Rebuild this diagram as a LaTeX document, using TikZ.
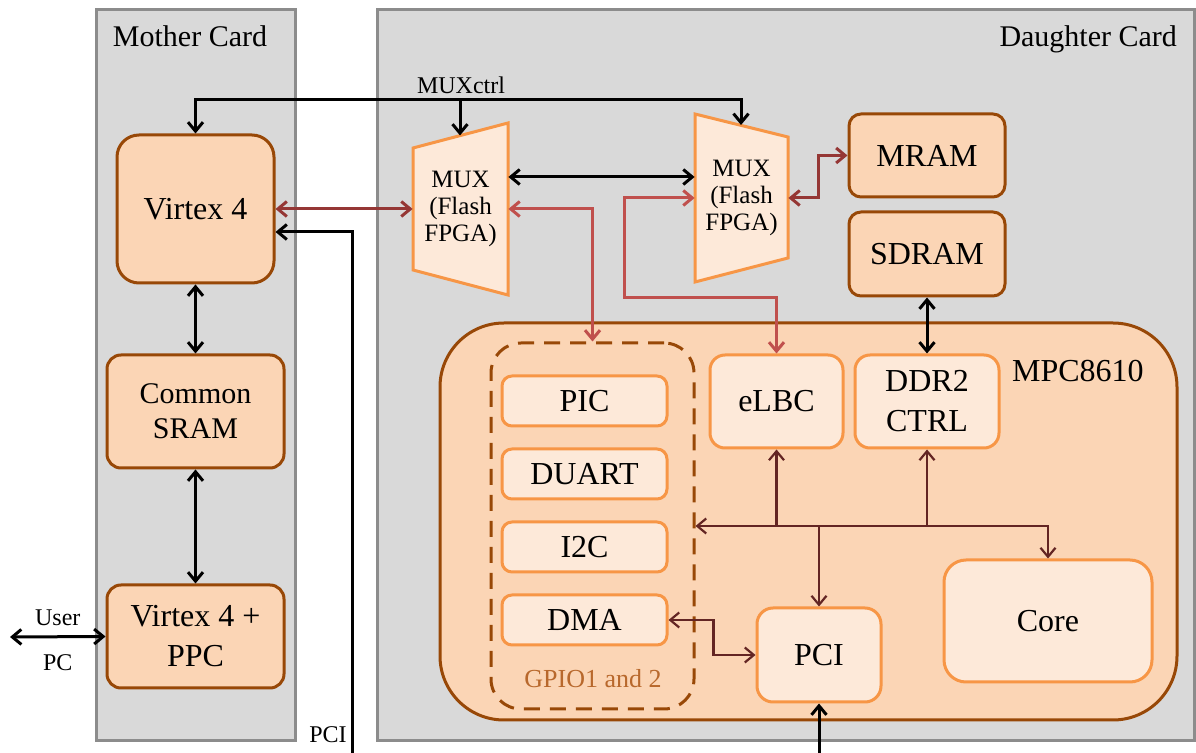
\documentclass[tikz,border=0pt]{standalone}
\usepackage{fontspec}
\setmainfont{Liberation Serif}
\usetikzlibrary{positioning,arrows.meta}
\definecolor{cardfill}{HTML}{D9D9D9}
\definecolor{cardline}{HTML}{8C8C8C}
\definecolor{darkfill}{HTML}{FBD5B5}
\definecolor{darkline}{HTML}{984807}
\definecolor{lightfill}{HTML}{FDE9D9}
\definecolor{lightline}{HTML}{F79646}
\definecolor{darkred}{HTML}{953735}
\definecolor{lightred}{HTML}{C0504D}
\definecolor{busred}{HTML}{632523}
\definecolor{gpiotext}{HTML}{B8682C}

\begin{document}
\begin{tikzpicture}[x=0.5pt, y=-0.5pt,
  card/.style={draw=cardline, fill=cardfill, line width=1.5pt, inner sep=0pt},
  dbox/.style={draw=darkline, fill=darkfill, line width=1.5pt, rounded corners=7pt, align=center, inner sep=0pt, font=\fontsize{16}{20}\selectfont},
  lbox/.style={draw=lightline, fill=lightfill, line width=1.5pt, rounded corners=5pt, align=center, inner sep=0pt, font=\fontsize{16}{20}\selectfont},
  mux/.style={draw=lightline, fill=lightfill, line width=1.5pt},
  muxtxt/.style={align=center, inner sep=0pt, font=\fontsize{12.5}{13.5}\selectfont},
  txt/.style={font=\fontsize{16}{20}\selectfont},
  ttl/.style={font=\fontsize{15}{17}\selectfont},
  lbl/.style={font=\fontsize{12}{14}\selectfont, inner sep=1pt},
  blk/.style={line width=1.5pt, draw=black},
  dred/.style={line width=1.5pt, draw=darkred},
  lred/.style={line width=1.5pt, draw=lightred},
  bus/.style={line width=1.1pt, draw=busred},
  >={Straight Barb[length=4.5pt, width=7.5pt]}]
\useasboundingbox (0,0) rectangle (1196,753);
% cards
\node[card, minimum width=99.5pt, minimum height=365.5pt] (mother) at (195.5,375.5) {};
\node[card, minimum width=408.5pt, minimum height=365.5pt] (daughter) at (785.5,375.5) {};
\node[ttl, anchor=base] (mtitle) at (190,47) {Mother Card};
\node[ttl, anchor=base east] (dtitle) at (1184,47) {Daughter Card};
% mother card
\node[dbox, rounded corners=11pt, minimum width=78.5pt, minimum height=74pt] (v4) at (195.5,209) {Virtex 4};
\node[dbox, minimum width=88.5pt, minimum height=56.5pt, font=\fontsize{15}{17.5}\selectfont] (sram) at (195.5,411.5) {Common\\SRAM};
\node[dbox, minimum width=88.5pt, minimum height=51.5pt] (ppc) at (195.5,636.5) {Virtex 4 +\\PPC};
% muxes
\draw[mux] (413,148) -- (508,123) -- (508,295) -- (413,270) -- cycle;
\node[muxtxt, minimum width=47.5pt] (mux1) at (460.5,209) {MUX\\(Flash\\FPGA)};
\draw[mux] (695,114) -- (788,137) -- (788,258) -- (695,282) -- cycle;
\node[muxtxt, minimum width=46.5pt] (mux2) at (741.5,198) {MUX\\(Flash\\FPGA)};
% memories
\node[dbox, rounded corners=6pt, minimum width=78pt, minimum height=41.5pt] (mram) at (927,155.5) {MRAM};
\node[dbox, rounded corners=6pt, minimum width=78pt, minimum height=42pt] (sdram) at (927,254) {SDRAM};
% MPC8610
\node[dbox, rounded corners=32pt, minimum width=368.5pt, minimum height=198.5pt] (mpc) at (808.5,521.5) {};
\node[txt, anchor=base west] (mpclbl) at (1005,382) {MPC8610};
\node[draw=darkline, dash pattern=on 8pt off 5pt, line width=1.5pt, rounded corners=15pt, minimum width=101.5pt, minimum height=183pt] (gpio) at (592.5,526) {};
\node[font=\fontsize{13}{15}\selectfont, text=gpiotext] (gpiolbl) at (593,679) {GPIO1 and 2};
\node[lbox, minimum width=82.5pt, minimum height=25pt] (pic) at (584.5,401) {PIC};
\node[lbox, minimum width=82.5pt, minimum height=25pt, below=10pt of pic] (duart) {DUART};
\node[lbox, minimum width=82.5pt, minimum height=25pt, below=10pt of duart] (i2c) {I2C};
\node[lbox, minimum width=82.5pt, minimum height=25pt, below=10pt of i2c] (dma) {DMA};
\node[lbox, rounded corners=7.5pt, minimum width=66.5pt, minimum height=46.5pt] (elbc) at (776.5,401.5) {eLBC};
\node[lbox, rounded corners=7.5pt, minimum width=72pt, minimum height=46.5pt] (ddr) at (927,401.5) {DDR2\\CTRL};
\node[lbox, rounded corners=8pt, minimum width=62pt, minimum height=47pt] (pci) at (819,655) {PCI};
\node[lbox, rounded corners=11pt, minimum width=104pt, minimum height=61pt] (core) at (1048,621) {Core};
% free ends
\coordinate (ctrl) at (460,100);
\coordinate (m1top) at (460,135.5);
\coordinate (m2top) at (741,125);
\coordinate (user) at (10,637);
\coordinate (pcibot) at (352,753);
\coordinate (link) at ([yshift=16pt]mux1.east);
% mother card links
\draw[blk, <->] (v4.south) -- (sram.north);
\draw[blk, <->] (sram.south) -- (ppc.north);
\draw[blk, <->] (user) -- (ppc.west) node[lbl, midway, above=4pt] {User} node[lbl, midway, below=7pt] {PC};
\draw[blk, <->] (v4.north) |- (ctrl) -| (m2top);
\draw[blk, ->] (ctrl) -- (m1top);
\node[lbl, anchor=base] (ctrllbl) at (461,94) {MUXctrl};
\draw[blk, ->] (pcibot) |- ([yshift=-11.5pt]v4.east);
\node[lbl, anchor=base east] (pcilbl) at (349,743) {PCI};
\draw[dred, <->] (v4.east) -- (mux1.west);
% mux links
\draw[blk, <->] (link) -- (link -| mux2.west);
\draw[lred, <->] (mux1.east) -| (gpio.north);
\draw[lred, <->] (mux2.west) -- ++(-70,0) |- ([yshift=28pt]elbc.north) -- (elbc.north);
\draw[dred, <->] (mux2.east) -- ++(30,0) |- (mram.west);
\draw[blk, <->] (sdram.south) -- (ddr.north);
% internal bus
\draw[bus, <->] (gpio.east) -| (core.north);
\draw[bus, ->] (elbc.south |- gpio.east) -- (elbc.south);
\draw[bus, ->] (ddr.south |- gpio.east) -- (ddr.south);
\draw[bus, ->] (pci.north |- gpio.east) -- (pci.north);
\draw[bus, <->] (dma.east) -- ++(45,0) |- (pci.west);
\draw[blk, ->] (pci.south |- pcibot) -- (pci.south);
\end{tikzpicture}
\end{document}
